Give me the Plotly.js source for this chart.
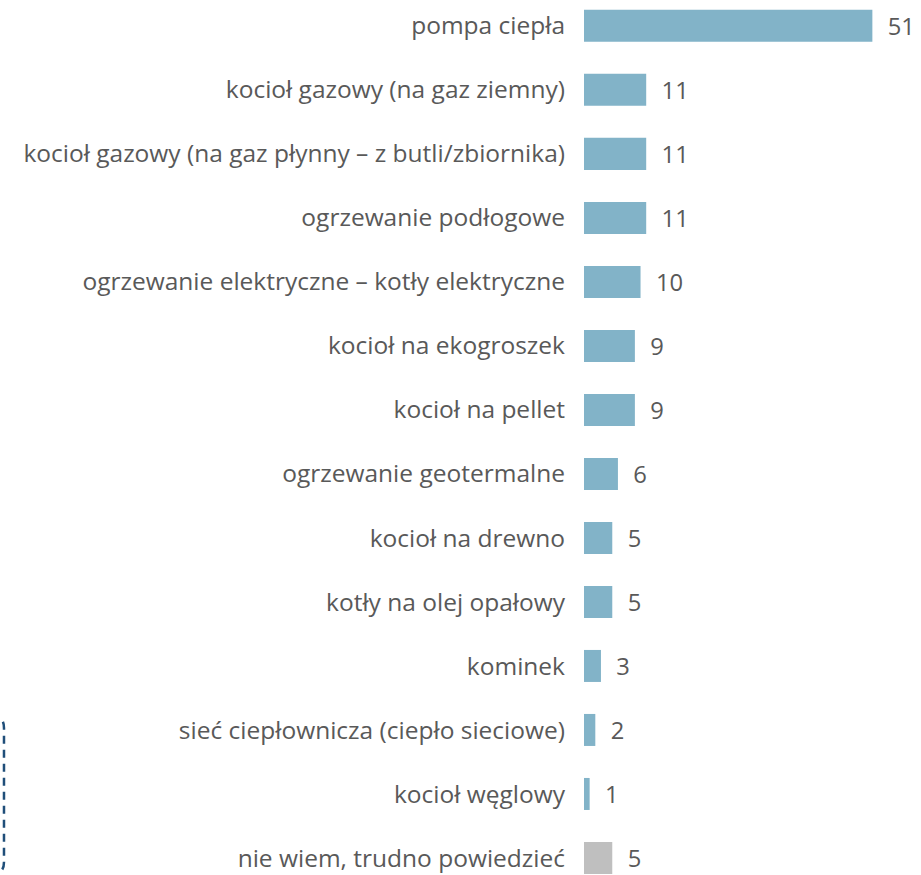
<!DOCTYPE html>
<html>
<head>
<meta charset="utf-8">
<script src="https://cdn.plot.ly/plotly-3.0.1.min.js"></script>
<style>html,body{margin:0;padding:0;background:#fff;}#chart{width:921px;height:875px;}</style>
</head>
<body>
<div id="chart"></div>
<script>
const categories = [
  "pompa ciepła",
  "kocioł gazowy (na gaz ziemny)",
  "kocioł gazowy (na gaz płynny – z butli/zbiornika)",
  "ogrzewanie podłogowe",
  "ogrzewanie elektryczne – kotły elektryczne",
  "kocioł na ekogroszek",
  "kocioł na pellet",
  "ogrzewanie geotermalne",
  "kocioł na drewno",
  "kotły na olej opałowy",
  "kominek",
  "sieć ciepłownicza (ciepło sieciowe)",
  "kocioł węglowy",
  "nie wiem, trudno powiedzieć"
];
const values = [51, 11, 11, 11, 10, 9, 9, 6, 5, 5, 3, 2, 1, 5];
const barColors = categories.map((c, i) => i === categories.length - 1 ? "#bfbfbf" : "#82b3c8");

const trace = {
  type: "bar",
  orientation: "h",
  x: values,
  y: categories,
  marker: { color: barColors },
  width: 0.5,
  text: values.map(v => String(v)),
  texttemplate: "\u00a0\u00a0%{text}",
  textposition: "outside",
  cliponaxis: false,
  textfont: { family: "Open Sans, sans-serif", size: 24.5, color: "#595959" },
  hoverinfo: "none"
};

const layout = {
  width: 921,
  height: 875,
  margin: { l: 584, r: 0, t: 0, b: 0, pad: 0 },
  paper_bgcolor: "#ffffff",
  plot_bgcolor: "#ffffff",
  showlegend: false,
  xaxis: {
    range: [0, 59.6],
    visible: false,
    fixedrange: true
  },
  yaxis: {
    type: "category",
    categoryorder: "array",
    categoryarray: categories,
    range: [13.266, -0.404],
    showgrid: false,
    zeroline: false,
    showline: false,
    ticks: "",
    ticklabelstandoff: 18,
    tickfont: { family: "Open Sans, sans-serif", size: 24.5, color: "#595959" },
    automargin: false,
    fixedrange: true
  },
  shapes: [{
    type: "path",
    xref: "paper",
    yref: "paper",
    path: "M -1.76 " + (1 - 717/875) + " L -1.7475 " + (1 - 717/875) + " Q -1.7211 " + (1 - 717/875) + " -1.7211 " + (1 - 728/875) + " L -1.7211 " + (1 - 862/875) + " Q -1.7211 " + (1 - 873/875) + " -1.7475 " + (1 - 873/875) + " L -1.76 " + (1 - 873/875),
    line: { color: "#1f4e79", width: 2.5, dash: "8px,6px" }
  }]
};

Plotly.newPlot("chart", [trace], layout, { staticPlot: true, displayModeBar: false });
</script>
</body>
</html>
